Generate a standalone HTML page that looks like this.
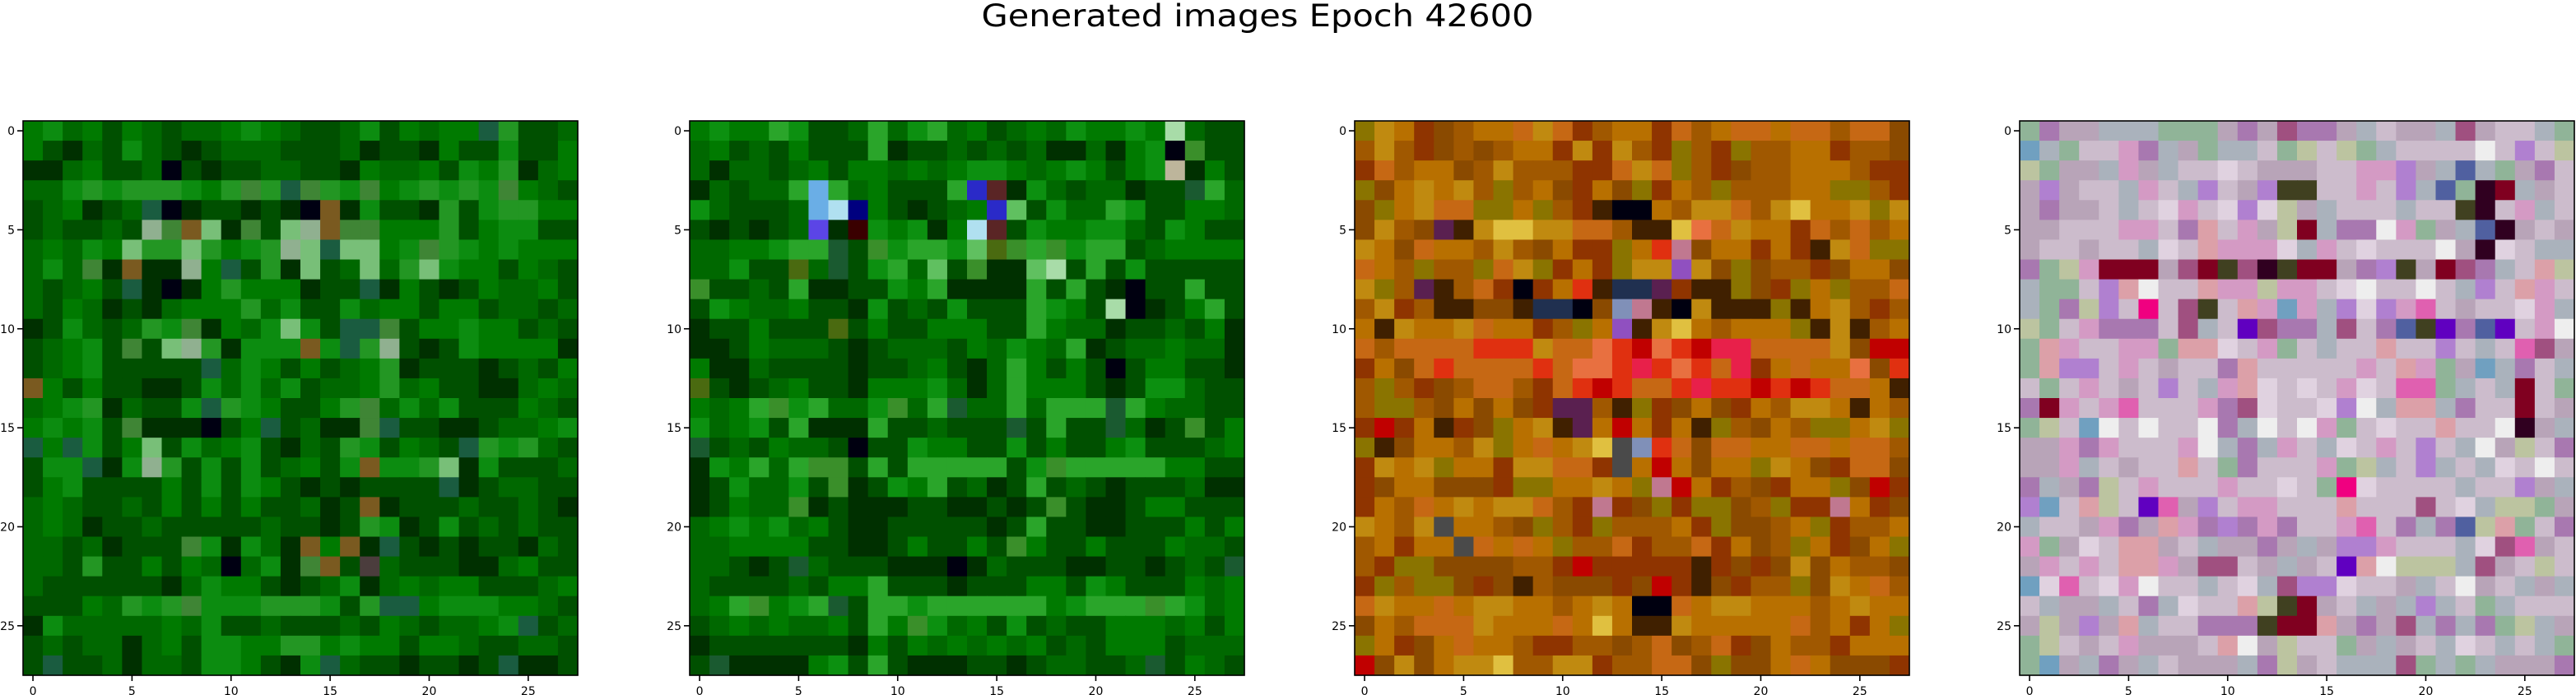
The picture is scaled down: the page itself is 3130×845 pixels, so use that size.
<!DOCTYPE html>
<html><head><meta charset="utf-8">
<style>
html,body{margin:0;padding:0;background:#fff;}
svg{display:block;}
text{font-family:"DejaVu Sans","Liberation Sans",sans-serif;fill:#000;}
</style></head>
<body>
<svg id="fig" width="3130" height="845" viewBox="0 0 3130 845" xmlns="http://www.w3.org/2000/svg">
<rect width="3130" height="845" fill="#fff"/>
<text x="1528" y="32" font-size="37" text-anchor="middle" textLength="671" lengthAdjust="spacingAndGlyphs">Generated images Epoch 42600</text>
</svg>
<script>
// ---- data ----
const xTicks = [0, 5, 10, 15, 20, 25];
const yTicks = [0, 5, 10, 15, 20, 25];
const gridSize = 28;
const panelNames = ['image-1', 'image-2', 'image-3', 'image-4'];

const palette1 = {a:'#006800',b:'#005000',c:'#007a00',d:'#0c8c10',e:'#003000',f:'#239623',g:'#78bf78',h:'#000012',i:'#7a5a20',j:'#1a5c40',k:'#3f8535',l:'#90b090',m:'#4b3d3d'};
const rows1 = [
"cdacbcabaacdcabbadbcaccjfbba","cbeabdabebaaabbbaebbecbbdbbc","eeacbbahbebbaabbecaacbdcfeac","aadfdfffdcfkfjkfdkcdfdfdkcab",
"bacebajhebbebehiedbbefbdffcc","babbablkigekbglikkcccfbcddbb","acadcgffgfcdflgjggcdkfdcdccc","adakeieelcjbfegbagafgdccbcab",
"abacbjehecfccceb bjecbebcaacb".replace(' ',''),"abcaebeacccfadbbdaccbccbaaba","ebdabafdkecadgdbjjkbccdccbab","bacdbkbglfedddidjflbebdcccce",
"bacdbbbbbjadcbcbacfebbbebabcb","icbcbbeebdadadbaacfacbbeeaca","acdfeabbdjfdcbbcfkadadbbbcab","cdcdbkeeehbcjbaeekjbbeebaacd",
"jcjdbcgbdacdbeabfdbcabjfdfab","bddjedlfbdbdbacbdiddfgedbbba","bcdbbbbcbdbdcbebebbbbjebaabb","acabbabcbcbcbbaebiebbbabbabe",
"acaebbabbbbbabbebfdebdbababb","aabaebbbkdedaeiciejbebebbeab","aabfbbcbcahadekibmabbbeeacbb","abbbbbbeadccbebadeacaccbbbac",
"bbbcafdfkdddfffdbfjjcdddccab","edaaaaacadbbabbbabcabaacdjba","babaaeacbddccffcdccbccabbaab","bjbbaeaabddcbedjabbebbebjeeb"];

const palette2 = {a:'#006800',b:'#005000',c:'#007a00',d:'#0c9010',e:'#003000',f:'#2aa52a',g:'#60c060',h:'#000010',i:'#4a6a10',j:'#1a5a30',k:'#3a8f2a',l:'#a8dca8',n:'#6aaee6',o:'#00007f',p:'#5b45e6',q:'#2a2ac8',r:'#5a2525',s:'#b0e0f0',t:'#bdb59b',u:'#3a0000'};
const rows2 = [
"cdccfdbbafadfacbacadccdclabb","acbabcbbbfebbababaeeaecdhkbb","aeaabacbccacacddcacdcbcdtecb","eabaafnfacbbbfqredabaaebbjfa",
"dabbbansocbebacqgbdaafdbbcca","bebebapeudcdecsrbdccddabdcbb","aaccdffjbkdffdgikfkdffbacccc","aadbbiajbdfagbkeeglbfbdbbbbb",
"kbbabfeebbdcfeeeefbfbehbbfbb","bdcaacbbedbabdbbbfdcblhebcfb","ebbcbbbibcbbcccbbfcaaebbabce","eebcaaabebaaabcadcafebaacaae",
"ceeabbbbebbacbeafcbcbhbccbbe","ibebacbbecccdaeafcccbebddabb","cacfkdfaadkafjaafafffjfcaabb","dacdbfeeefbbabbbjbfbbjaebkbc",
"jbabcaabhbbdccbbdbcbbcdbbbac","edcfafkkbfbfffffbdkfffffccbb","ebdaadbkebdcfbaebfbabebbbaee","ebcaakebeeebbeebebkbeebccbbb",
"acdcdacbeebbbbbebfbbeebbbcbc","aaccccbbeebcbbcbkcbbcbbbcaab","aabebjabbbeeeheabbbeebbebabj","abbbbabccfbbbebbbccbdcbbbcac",
"acfkcdfjbffdffffffcdfffkfdac","bacacaacbfckdacbdbabbcccacbc","ebbbbbbbecbcacacacbabcccbaaa","bjeeeecdbfbeeebbebaabbajbcab"];

const palette3 = {a:'#a05800',b:'#b87000',c:'#8a4a00',d:'#c08a10',e:'#c66814',f:'#8f3400',g:'#e03010',h:'#e8204a',i:'#8a7400',j:'#000010',k:'#402000',l:'#9050c0',m:'#e0c040',n:'#5a2050',o:'#203050',p:'#c07890',q:'#e87040',r:'#c00000',s:'#8090b8',t:'#4a4a4a'};
const rows3 = [
"idbfcabbedefabbfeabeebeeaeec","adafcacabbfdfdafiafiaabbfaac","feabbcadaaaffedeiafcaabbbaff","icbdbdaiabcfbcifbaiaaabbiiaf",
"cibdeeiibiafkjjbaddeadmbbdid","cdacnkdmmddeeakkmqedbbfeaeab","dbcebbadacbffibgpcbbfbfkdeii","ebaiaaiedifbfiddldcicaafcbbc",
"diankaefjfbgkoonfkkicfibiaae","adfakkcckoojcspkjdkkkikbdafa","bkdbbdebbfaiblkdmbabbbikdkab","eaeeeegggdeeqgrqgrhheeeedcrr",
"fbcegeeeegeqqghgqgehfbebbqcg","aiafcaeeafegrgeeghggrgrgeebk","aiiacbcbcfnnakifcbcfbaddbkba","frfbkfcibdknbrbfbkiacbaiibdi",
"ikcbbadibebdmtsgeceebbeebeea","fdbdibbfddeeftbrbcbbidbcfeec","fcbbcccfiibbdbiprbfacfbbicrf","fbaebdbddeafpfcifiicaiffpbfc",
"dbadtbbaciafiaaabficcabifaab","abfbbtebebiaaefaaefbcaibfcbi","afiiccccaafrfffffkfcfcdcbaac","fiaiicfckacccfcrfkcfaaicdbea",
"edbbebddbbabdbjjebddbbbabdbb","cbaeeedbbbebmbkkdbbbbbeabfbi","ibfcbebbaffaacaecaefcbaafbbb","rcdcbddmaaddfaaeeciccbebcccf"];

const palette4 = {a:'#b8a4b8',b:'#ccbccc',c:'#aab2bc',d:'#e0d2e0',e:'#a878b0',f:'#90b498',g:'#d49ac4',h:'#300020',i:'#800020',j:'#5060a0',k:'#eeeeee',l:'#bcc4a0',m:'#e060b0',n:'#6000c0',o:'#a05080',p:'#b080d0',q:'#dca0a8',r:'#f00080',s:'#404020',t:'#70a0c0'};
const rows4 = [
"feaacccfffaeaoeeacbaacoabbcf","tcfbbgecafccbflblfcbbbbkbpbl","lfaacgacbbdbaaabbggpacjcfaeb","apabbcgbcpbapssbbgbpcjfhicab",
"aeaabcbdgbdpdlacbbbcbbshbgcb","aabbbggbeqbgaliceekgfacjhaba","abbabbcdbqgggdcgbdbbbkahdbcc","eflgiiiaoisohsiiaepsaioecbql",
"cffbpqkbbqgglggbdkbbkbcpbqgb","cfelpbrbosbqgtgcpdpgmbabbdgc","lfbgeeebocbnoeecobejsnejnbgk","fqgbbggfqqdbgfbcbbqbbpbcbmoa",
"fqppbgbabbeqbbbbbgbqgfatcebc","bfbgbabpbcgqdbdbgdbmmfcbcibf","eigbgmbbbgeodbbdpkcqqcebbiba","flbtkbkbbkeckbkgfbdbbqbbkhac",
"aagegbbbgkcecgbcdbgbpbckalbe","aagcbabbqbfebbbgflcbpcbcdbkb","ecaelbgbbbgbbdbfrdbbbbcbbpac","ptbqlbnmapbggbbbqbbbobdcllfa",
"cbbageaqgepegebbgmbecejlqfbe","gfadbqqabcaaeacappgbbbcdomab","agbgbqqgaoobacabnqklllcoablb","tdmbdgkbbcbdcoppdbbacbkabcac",
"bcaacbecdbbqlsiabcacpcbfcbbb","alapaqcbbeeesiiqaeaoceceflca","flbabgaaabqkalbbfacabcdbcbcf","ftaceacbaaacelabcccofcfcaaae"];

const panelRows = [rows1, rows2, rows3, rows4];
const panelPalettes = [palette1, palette2, palette3, palette4];

// ---- layout ----
const panelLeft = [28, 838, 1646, 2454];
const panelTop = 147;
const panelSize = 674;
const cell = panelSize / gridSize;
const NS = 'http://www.w3.org/2000/svg';
const svg = document.getElementById('fig');

function xScale(p, v) { return panelLeft[p] + v * cell; }
function yScale(v) { return panelTop + v * cell; }
function mk(tag, attrs, parent) {
  const e = document.createElementNS(NS, tag);
  for (const k in attrs) e.setAttribute(k, attrs[k]);
  parent.appendChild(e);
  return e;
}

for (let p = 0; p < 4; p++) {
  const g = mk('g', {}, svg);
  
  
  const rows = panelRows[p], pal = panelPalettes[p];
  for (let r = 0; r < gridSize; r++) {
    let s = rows[r] || rows[rows.length - 1];
    while (s.length < gridSize) s += s[s.length - 1];
    for (let c = 0; c < gridSize; c++) {
      const col = pal[s[c]] || pal.a;
      const rect = mk('rect', {x: xScale(p, c).toFixed(2), y: yScale(r).toFixed(2), width: (cell + 0.6).toFixed(2), height: (cell + 0.6).toFixed(2), fill: col}, g);
      
      
    }
  }
  const frame = mk('rect', {x: panelLeft[p], y: panelTop, width: panelSize, height: panelSize, fill: 'none', stroke: '#000', 'stroke-width': 1.6}, g);
  
  
  xTicks.forEach(t => {
    const x = xScale(p, t + 0.5);
    const tk = mk('line', {x1: x, x2: x, y1: panelTop + panelSize, y2: panelTop + panelSize + 7, stroke: '#000', 'stroke-width': 1.6}, g);
    
    
    const lb = mk('text', {x: x, y: panelTop + panelSize + 24, 'font-size': 14, 'text-anchor': 'middle'}, g);
    lb.textContent = String(t);
    
    
  });
  yTicks.forEach(t => {
    const y = yScale(t + 0.5);
    const tk = mk('line', {x1: panelLeft[p] - 7, x2: panelLeft[p], y1: y, y2: y, stroke: '#000', 'stroke-width': 1.6}, g);
    
    
    const lb = mk('text', {x: panelLeft[p] - 10, y: y + 5, 'font-size': 14, 'text-anchor': 'end'}, g);
    lb.textContent = String(t);
    
    
  });
}
</script>
</body></html>
